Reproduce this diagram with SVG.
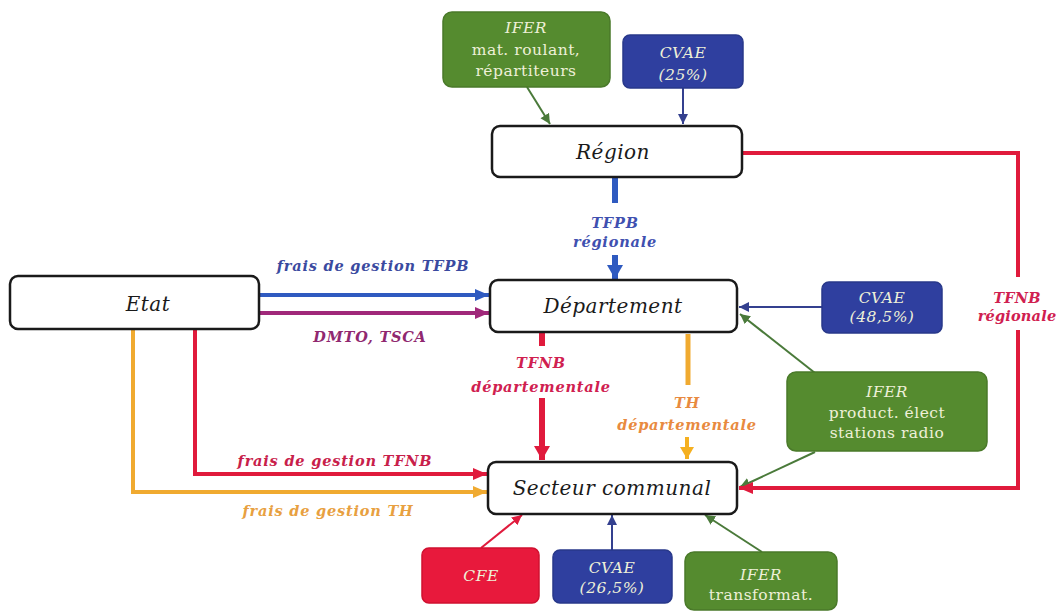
<svg xmlns="http://www.w3.org/2000/svg" width="1061" height="612" viewBox="0 0 1061 612">
<defs>
<style>
.node{fill:#fff;stroke:#1a1a1a;stroke-width:2.5}
.green{fill:#558b2f;stroke:#4a7a2a;stroke-width:1.5}
.blue{fill:#2f3f9f;stroke:#28388a;stroke-width:1.5}
.red{fill:#e8193c;stroke:#d0102f;stroke-width:1.5}
.nt{font-family:"DejaVu Serif",serif;font-style:italic;font-size:20px;fill:#1a1a1a;text-anchor:middle;letter-spacing:0.5px}
.bt{font-family:"DejaVu Serif",serif;font-size:15.5px;fill:#eef0d8;text-anchor:middle;letter-spacing:0.5px}
.bi{font-style:italic}
.lb{font-family:"DejaVu Serif",serif;font-style:italic;font-weight:bold;font-size:14.5px;text-anchor:middle;letter-spacing:0.8px}
.tight{letter-spacing:0.2px}
.c{fill:none}
</style>
<marker id="aBlueT" markerUnits="userSpaceOnUse" markerWidth="20" markerHeight="20" viewBox="0 0 20 20" refX="14" refY="10" orient="auto"><path d="M0,2 L14,10 L0,18 Z" fill="#2f5ac0"/></marker>
<marker id="aBlueH" markerUnits="userSpaceOnUse" markerWidth="16" markerHeight="14" viewBox="0 0 16 14" refX="14" refY="7" orient="auto"><path d="M0,1 L14,7 L0,13 Z" fill="#2f5ac0"/></marker>
<marker id="aPurp" markerUnits="userSpaceOnUse" markerWidth="16" markerHeight="14" viewBox="0 0 16 14" refX="14" refY="7" orient="auto"><path d="M0,1 L14,7 L0,13 Z" fill="#a0287a"/></marker>
<marker id="aRed" markerUnits="userSpaceOnUse" markerWidth="16" markerHeight="14" viewBox="0 0 16 14" refX="14" refY="7" orient="auto"><path d="M0,1 L14,7 L0,13 Z" fill="#e01a3c"/></marker>
<marker id="aRedT" markerUnits="userSpaceOnUse" markerWidth="20" markerHeight="20" viewBox="0 0 20 20" refX="14" refY="10" orient="auto"><path d="M0,2 L14,10 L0,18 Z" fill="#e01a3c"/></marker>
<marker id="aOr" markerUnits="userSpaceOnUse" markerWidth="16" markerHeight="14" viewBox="0 0 16 14" refX="14" refY="7" orient="auto"><path d="M0,1 L14,7 L0,13 Z" fill="#f0aa30"/></marker>
<marker id="aOrS" markerUnits="userSpaceOnUse" markerWidth="16" markerHeight="16" viewBox="0 0 16 16" refX="12" refY="8" orient="auto"><path d="M0,1 L12,8 L0,15 Z" fill="#f5b020"/></marker>
<marker id="aGr" markerUnits="userSpaceOnUse" markerWidth="12" markerHeight="12" viewBox="0 0 12 12" refX="10" refY="6" orient="auto"><path d="M0,1 L10,6 L0,11 Z" fill="#4a7a3a"/></marker>
<marker id="aDB" markerUnits="userSpaceOnUse" markerWidth="12" markerHeight="12" viewBox="0 0 12 12" refX="10" refY="6" orient="auto"><path d="M0,1 L10,6 L0,11 Z" fill="#34408f"/></marker>
<marker id="aRs" markerUnits="userSpaceOnUse" markerWidth="12" markerHeight="12" viewBox="0 0 12 12" refX="10" refY="6" orient="auto"><path d="M0,1 L10,6 L0,11 Z" fill="#e01a3c"/></marker>
</defs>
<rect width="1061" height="612" fill="#fff"/>

<g id="connectors">
<line class="c" x1="527" y1="87" x2="550" y2="124" stroke="#4a7a3a" stroke-width="2" marker-end="url(#aGr)"/>
<line class="c" x1="683" y1="88" x2="683" y2="124" stroke="#34408f" stroke-width="2" marker-end="url(#aDB)"/>
<line class="c" x1="615" y1="177" x2="615" y2="203" stroke="#2f5ac0" stroke-width="6"/>
<line class="c" x1="615" y1="255" x2="615" y2="279" stroke="#2f5ac0" stroke-width="6" marker-end="url(#aBlueT)"/>
<line class="c" x1="260" y1="295" x2="489" y2="295" stroke="#2f5ac0" stroke-width="4" marker-end="url(#aBlueH)"/>
<line class="c" x1="260" y1="313" x2="489" y2="313" stroke="#a0287a" stroke-width="4" marker-end="url(#aPurp)"/>
<line class="c" x1="822" y1="307" x2="739" y2="307" stroke="#34408f" stroke-width="2" marker-end="url(#aDB)"/>
<line class="c" x1="815" y1="373" x2="740" y2="314" stroke="#4a7a3a" stroke-width="2" marker-end="url(#aGr)"/>
<line class="c" x1="815" y1="452" x2="740" y2="487" stroke="#4a7a3a" stroke-width="2" marker-end="url(#aGr)"/>
<path class="c" d="M742,153 H1018 V277" stroke="#e01a3c" stroke-width="4"/>
<path class="c" d="M1018,330 V488 H739" stroke="#e01a3c" stroke-width="4" marker-end="url(#aRed)"/>
<line class="c" x1="542" y1="332" x2="542" y2="346" stroke="#e01a3c" stroke-width="6"/>
<line class="c" x1="542" y1="398" x2="542" y2="460" stroke="#e01a3c" stroke-width="6" marker-end="url(#aRedT)"/>
<line class="c" x1="688" y1="334" x2="688" y2="385" stroke="#f0aa30" stroke-width="5"/>
<line class="c" x1="687" y1="437" x2="687" y2="459" stroke="#f5b020" stroke-width="4" marker-end="url(#aOrS)"/>
<path class="c" d="M195,329 V474 H487" stroke="#e01a3c" stroke-width="4" marker-end="url(#aRed)"/>
<path class="c" d="M133,329 V492 H487" stroke="#f0aa30" stroke-width="4" marker-end="url(#aOr)"/>
<line class="c" x1="481" y1="548" x2="522" y2="515" stroke="#e01a3c" stroke-width="2" marker-end="url(#aRs)"/>
<line class="c" x1="612" y1="550" x2="612" y2="515" stroke="#34408f" stroke-width="2" marker-end="url(#aDB)"/>
<line class="c" x1="762" y1="552" x2="705" y2="515" stroke="#4a7a3a" stroke-width="2" marker-end="url(#aGr)"/>
</g>

<g id="labels">
<text class="lb" x="615" y="228" fill="#4050b0">TFPB</text>
<text class="lb" x="615" y="247" fill="#4050b0">régionale</text>
<text class="lb" x="373" y="271" fill="#3a4aa0">frais de gestion TFPB</text>
<text class="lb" x="370" y="342" fill="#902870">DMTO, TSCA</text>
<text class="lb" x="541" y="368" fill="#d02050">TFNB</text>
<text class="lb" x="541" y="392" fill="#d02050">départementale</text>
<text class="lb" x="687" y="408" fill="#e88a40" font-weight="normal">TH</text>
<text class="lb" x="687" y="430" fill="#e88a40" font-weight="normal">départementale</text>
<text class="lb tight" x="1017" y="303" fill="#d02050">TFNB</text>
<text class="lb tight" x="1017" y="321" fill="#d02050">régionale</text>
<text class="lb" x="335" y="466" fill="#c8204a">frais de gestion TFNB</text>
<text class="lb" x="328" y="516" fill="#e8a040">frais de gestion TH</text>
</g>

<g id="ifer-top">
<rect class="green" x="443" y="12" width="167" height="75" rx="9"/>
<text class="bt bi" x="526" y="33">IFER</text>
<text class="bt" x="526" y="55">mat. roulant,</text>
<text class="bt" x="526" y="76">répartiteurs</text>
</g>
<g id="cvae-25">
<rect class="blue" x="623" y="35" width="120" height="53" rx="7"/>
<text class="bt bi" x="683" y="58">CVAE</text>
<text class="bt bi" x="683" y="80">(25%)</text>
</g>
<g id="region">
<rect class="node" x="492" y="126" width="250" height="51" rx="8"/>
<text class="nt" x="613" y="159">Région</text>
</g>
<g id="etat">
<rect class="node" x="10" y="276" width="249" height="53" rx="8"/>
<text class="nt" x="148" y="311">Etat</text>
</g>
<g id="departement">
<rect class="node" x="490" y="280" width="247" height="52" rx="8"/>
<text class="nt" x="613" y="313">Département</text>
</g>
<g id="cvae-485">
<rect class="blue" x="822" y="282" width="120" height="51" rx="7"/>
<text class="bt bi" x="882" y="303">CVAE</text>
<text class="bt bi" x="882" y="322">(48,5%)</text>
</g>
<g id="ifer-product">
<rect class="green" x="787" y="372" width="200" height="79" rx="9"/>
<text class="bt bi" x="887" y="397">IFER</text>
<text class="bt" x="887" y="418">product. élect</text>
<text class="bt" x="887" y="438">stations radio</text>
</g>
<g id="secteur-communal">
<rect class="node" x="488" y="462" width="249" height="52" rx="8"/>
<text class="nt" x="612" y="495">Secteur communal</text>
</g>
<g id="cfe">
<rect class="red" x="422" y="548" width="117" height="55" rx="7"/>
<text class="bt bi" x="481" y="581">CFE</text>
</g>
<g id="cvae-265">
<rect class="blue" x="553" y="550" width="119" height="53" rx="7"/>
<text class="bt bi" x="612" y="573">CVAE</text>
<text class="bt bi" x="612" y="593">(26,5%)</text>
</g>
<g id="ifer-transformat">
<rect class="green" x="685" y="552" width="152" height="58" rx="9"/>
<text class="bt bi" x="761" y="580">IFER</text>
<text class="bt" x="761" y="600">transformat.</text>
</g>
</svg>
